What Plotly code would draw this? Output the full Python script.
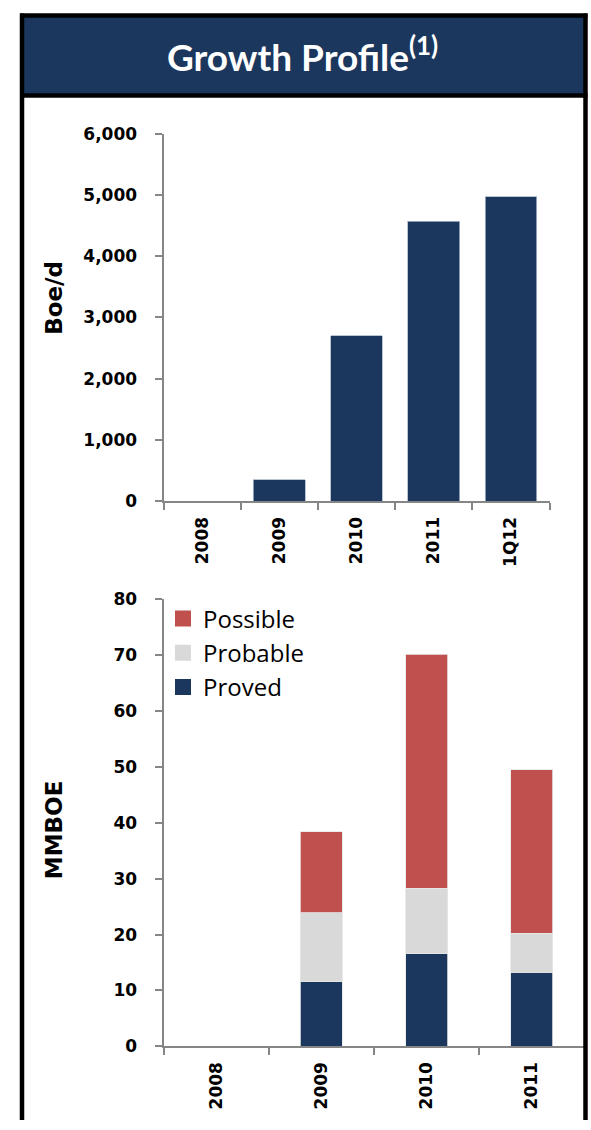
import plotly.graph_objects as go

# ---- data ----
prod_periods = ["2008", "2009", "2010", "2011", "1Q12"]
prod_boed = [0, 350, 2700, 4570, 4970]

res_years = ["2008", "2009", "2010", "2011"]
proved = [0, 11.6, 16.6, 13.3]
probable = [0, 12.3, 11.7, 6.9]
possible = [0, 14.5, 41.9, 29.3]

# ---- styling ----
W, H = 591, 1130
NAVY = "#1B375E"
RED = "#C0504D"
GREY = "#D9D9D9"
AXIS = "#868686"
TICK_FONT = dict(family="DejaVu Sans", size=17, color="black", weight="bold")
TITLE_FONT = dict(family="DejaVu Sans", size=23, color="black", weight="bold")


def fx(px):
    return px / W


def fy(py):
    return 1 - py / H


def edge_widths(vals, w=0.8):
    # no outline on empty bars
    return [w if v else 0 for v in vals]


fig = go.Figure()

# production bars
fig.add_trace(go.Bar(
    x=prod_periods, y=prod_boed, width=0.67,
    marker=dict(color=NAVY, line=dict(color="#A9B6C8", width=edge_widths(prod_boed))),
    xaxis="x", yaxis="y", showlegend=False,
))

# reserves stacked bars
for name, vals, col in [("Proved", proved, NAVY), ("Probable", probable, GREY),
                        ("Possible", possible, RED)]:
    fig.add_trace(go.Bar(
        x=res_years, y=vals, width=0.4, name=name,
        marker=dict(color=col, line=dict(color="#E6E6E6", width=edge_widths(vals))),
        xaxis="x2", yaxis="y2", showlegend=False,
    ))

# legend entries (square swatches)
for name, col in [("Possible", RED), ("Probable", GREY), ("Proved", NAVY)]:
    fig.add_trace(go.Scatter(
        x=[None], y=[None], mode="markers", name=name, legendgroup=name,
        marker=dict(symbol="square", size=16, color=col),
        xaxis="x2", yaxis="y2", showlegend=True,
    ))

common_x = dict(
    type="category", showline=True, linecolor=AXIS, linewidth=2,
    ticks="outside", tickson="boundaries", ticklen=7, tickwidth=2, tickcolor=AXIS,
    tickangle=-90, tickfont=TICK_FONT, showgrid=False, zeroline=False,
    ticklabelstandoff=7,
)
common_y = dict(
    showline=True, linecolor=AXIS, linewidth=2,
    ticks="outside", ticklen=7, tickwidth=2, tickcolor=AXIS,
    tickfont=TICK_FONT, showgrid=False, zeroline=False, ticklabelstandoff=14,
)

fig.update_layout(
    width=W, height=H,
    margin=dict(l=0, r=0, t=0, b=0),
    paper_bgcolor="white", plot_bgcolor="white",
    barmode="stack",
    xaxis=dict(domain=[fx(163.5), fx(549.5)], anchor="y", **common_x),
    yaxis=dict(domain=[fy(500), fy(126)], anchor="x", range=[0, 6000],
               dtick=1000, tickformat=",", **common_y),
    xaxis2=dict(domain=[fx(163.5), fx(584.5)], anchor="y2", **common_x),
    yaxis2=dict(domain=[fy(1055), fy(600)], anchor="x2", range=[0, 80],
                dtick=10, **common_y),
    yaxis3=dict(overlaying="y2", anchor="x2", side="right", range=[0, 80],
                dtick=10, ticks="inside", ticklen=3, tickwidth=2, tickcolor=AXIS,
                showticklabels=False, showline=False, showgrid=False,
                zeroline=False),
    legend=dict(
        x=fx(163), y=fy(597), xanchor="left", yanchor="top",
        font=dict(family="Open Sans", size=24, color="black"),
        bgcolor="rgba(0,0,0,0)", tracegroupgap=3, traceorder="normal",
        itemsizing="trace",
    ),
    showlegend=True,
    font=dict(family="Lato"),
)

# header band and frame
fig.add_shape(type="rect", xref="paper", yref="paper",
              x0=fx(22), x1=fx(585.5), y0=fy(87), y1=fy(5.5),
              fillcolor=NAVY, line=dict(width=0), layer="below")
frame = dict(color="black", width=4.5)
fig.add_shape(type="line", xref="paper", yref="paper",
              x0=fx(22), x1=fx(22), y0=fy(3.5), y1=0, line=frame, layer="above")
fig.add_shape(type="line", xref="paper", yref="paper",
              x0=fx(585.5), x1=fx(585.5), y0=fy(3.5), y1=0, line=frame, layer="above")
fig.add_shape(type="line", xref="paper", yref="paper",
              x0=fx(20), x1=fx(587.5), y0=fy(5.5), y1=fy(5.5), line=frame, layer="above")
fig.add_shape(type="line", xref="paper", yref="paper",
              x0=fx(20), x1=fx(587.5), y0=fy(87), y1=fy(87), line=frame, layer="above")

fig.add_annotation(
    text="Growth Profile<sup>(1)</sup>", xref="paper", yref="paper",
    x=fx(302), y=fy(45), showarrow=False, xanchor="center", yanchor="middle",
    font=dict(family="Lato", size=37, color="white", weight="bold"),
)

# axis titles
fig.add_annotation(
    text="Boe/d", xref="paper", yref="paper", x=fx(54), y=fy(293),
    textangle=-90, showarrow=False, xanchor="center", yanchor="middle",
    font=TITLE_FONT,
)
fig.add_annotation(
    text="MMBOE", xref="paper", yref="paper", x=fx(54), y=fy(835),
    textangle=-90, showarrow=False, xanchor="center", yanchor="middle",
    font=TITLE_FONT,
)

fig.write_html("out.html")
